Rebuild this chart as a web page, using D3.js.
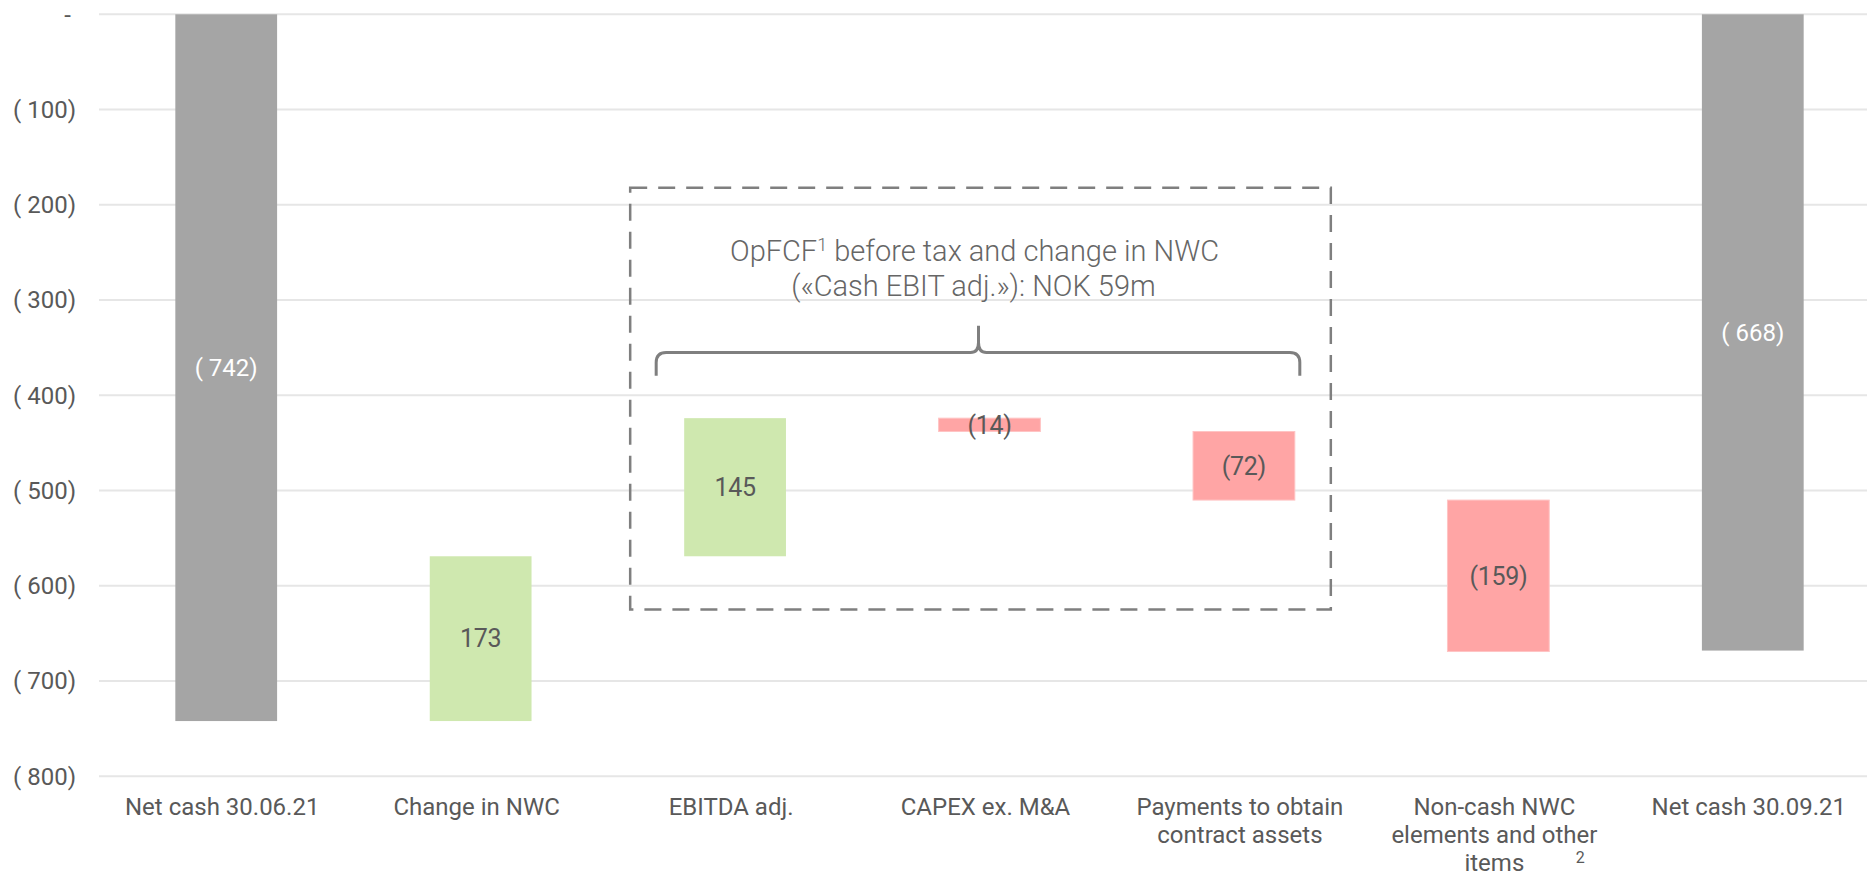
<!DOCTYPE html>
<html>
<head>
<meta charset="utf-8">
<script src="https://cdn.jsdelivr.net/npm/d3@7"></script>
<style>
  html, body { margin: 0; padding: 0; background: #fff; }
  svg { display: block; }
  text { font-family: Roboto, "Noto Sans", sans-serif; }
</style>
</head>
<body>
<svg id="chart" width="1867" height="875"></svg>
<script>
// ---- data ----
const categories = ["Net cash 30.06.21", "Change in NWC", "EBITDA adj.", "CAPEX ex. M&A",
  "Payments to obtain contract assets", "Non-cash NWC elements and other items", "Net cash 30.09.21"];
const categoryLines = [["Net cash 30.06.21"], ["Change in NWC"], ["EBITDA adj."], ["CAPEX ex. M&A"],
  ["Payments to obtain", "contract assets"], ["Non-cash NWC", "elements and other", "items"], ["Net cash 30.09.21"]];
const values = [-742, 173, 145, -14, -72, -159, -668];
const kinds = ["total", "delta", "delta", "delta", "delta", "delta", "total"];
const valueLabels = ["( 742)", "173", "145", "(14)", "(72)", "(159)", "( 668)"];
const yTicks = [0, -100, -200, -300, -400, -500, -600, -700, -800];
const annotationLine1 = "OpFCF";
const annotationSup = "1";
const annotationLine1Rest = " before tax and change in NWC";
const annotationLine2 = "(«Cash EBIT adj.»): NOK 59m";
const footnoteMark = "2";

// ---- layout ----
const svg = d3.select("#chart");
const plotLeft = 99, plotRight = 1880;
const y = d3.scaleLinear().domain([-800, 0]).range([776.3, 14.3]);
const x = d3.scaleBand().domain(categories).range([plotLeft, plotRight]).paddingInner(0.6).paddingOuter(0.3);

const colors = { total: "#A5A5A5", up: "#CFE8AF", down: "#FFA5A5" };
const textColor = "#595959";

// gridlines
svg.append("g").selectAll("line").data(yTicks).join("line")
  .attr("x1", plotLeft).attr("x2", 1867)
  .attr("y1", d => y(d)).attr("y2", d => y(d))
  .attr("stroke", "#E6E6E6").attr("stroke-width", 2);

// y axis labels
const fmt = d => d === 0 ? "-" : "( " + d3.format(",")(Math.abs(d)) + ")";
svg.append("g").selectAll("text").data(yTicks).join("text")
  .attr("x", d => d === 0 ? 71 : 76)
  .attr("y", d => y(d)).attr("dy", "0.35em")
  .attr("text-anchor", "end")
  .attr("font-size", 24).attr("fill", textColor)
  .text(fmt);

// compute waterfall segments
let running = 0;
const segs = values.map((v, i) => {
  let y0, y1;
  if (kinds[i] === "total") { y0 = 0; y1 = v; running = v; }
  else { y0 = running; y1 = running + v; running = y1; }
  const type = kinds[i] === "total" ? "total" : (v >= 0 ? "up" : "down");
  return { cat: categories[i], y0, y1, type, label: valueLabels[i] };
});

svg.append("g").selectAll("rect").data(segs).join("rect")
  .attr("x", d => x(d.cat)).attr("width", x.bandwidth())
  .attr("y", d => y(Math.max(d.y0, d.y1)))
  .attr("height", d => Math.abs(y(d.y0) - y(d.y1)))
  .attr("fill", d => colors[d.type])
  .attr("stroke", d => d.type === "down" ? "#FFC4C4" : "none")
  .attr("stroke-width", 1);

svg.append("g").selectAll("text").data(segs).join("text")
  .attr("x", d => x(d.cat) + x.bandwidth() / 2)
  .attr("y", d => y((d.y0 + d.y1) / 2)).attr("dy", "0.35em")
  .attr("text-anchor", "middle")
  .attr("font-size", d => d.type === "total" ? 24 : 25)
  .attr("fill", d => d.type === "total" ? "#FFFFFF" : textColor)
  .attr("letter-spacing", d => d.type === "total" ? 0 : -0.3)
  .text(d => d.label);

// category labels
const catG = svg.append("g");
categories.forEach((c, i) => {
  const cxl = x(c) + x.bandwidth() / 2 - 4;
  const t = catG.append("text")
    .attr("x", cxl).attr("y", 815)
    .attr("text-anchor", "middle").attr("font-size", 24)
    .attr("fill", textColor);
  categoryLines[i].forEach((ln, j) => {
    t.append("tspan").attr("x", cxl).attr("dy", j === 0 ? 0 : 28).text(ln);
  });
});
// footnote superscript
const ncCat = categories[5];
svg.append("text")
  .attr("x", x(ncCat) + x.bandwidth() / 2 + 82).attr("y", 863)
  .attr("text-anchor", "middle").attr("font-size", 16).attr("fill", textColor)
  .text(footnoteMark);

// dashed annotation box
const bx0 = x(categories[2]) - 54, bx1 = x(categories[4]) + x.bandwidth() + 36;
svg.append("rect")
  .attr("x", bx0).attr("y", y(-182))
  .attr("width", bx1 - bx0).attr("height", y(-625) - y(-182))
  .attr("fill", "none").attr("stroke", "#7F7F7F").attr("stroke-width", 2.5)
  .attr("stroke-dasharray", "17,11");

// brace
const lx = x(categories[2]) - 28, rx = x(categories[4]) + x.bandwidth() + 5;
const cx = x(categories[3]) + x.bandwidth() / 2 - 11;
const yEnd = y(-379.5), yMid = y(-355), yPeak = y(-327);
const r = 10;
const bracePath = `M${lx},${yEnd} L${lx},${yMid + r} Q${lx},${yMid} ${lx + r},${yMid} L${cx - 8},${yMid} Q${cx},${yMid} ${cx},${yMid - 10} L${cx},${yPeak}
M${cx},${yMid - 10} Q${cx},${yMid} ${cx + 8},${yMid} L${rx - r},${yMid} Q${rx},${yMid} ${rx},${yMid + r} L${rx},${yEnd}`;
svg.append("path").attr("d", bracePath)
  .attr("fill", "none").attr("stroke", "#7F7F7F").attr("stroke-width", 3);

// annotation text
const ann = svg.append("text")
  .attr("x", cx - 4).attr("y", 261)
  .attr("text-anchor", "middle").attr("font-size", 29).attr("font-weight", 300)
  .attr("fill", "#666666");
ann.append("tspan").text(annotationLine1);
ann.append("tspan").attr("font-size", 18).attr("dy", -10).text(annotationSup);
ann.append("tspan").attr("dy", 10).text(annotationLine1Rest);
svg.append("text")
  .attr("x", cx - 5).attr("y", 296)
  .attr("text-anchor", "middle").attr("font-size", 29).attr("font-weight", 300)
  .attr("fill", "#666666")
  .text(annotationLine2);
</script>
</body>
</html>
